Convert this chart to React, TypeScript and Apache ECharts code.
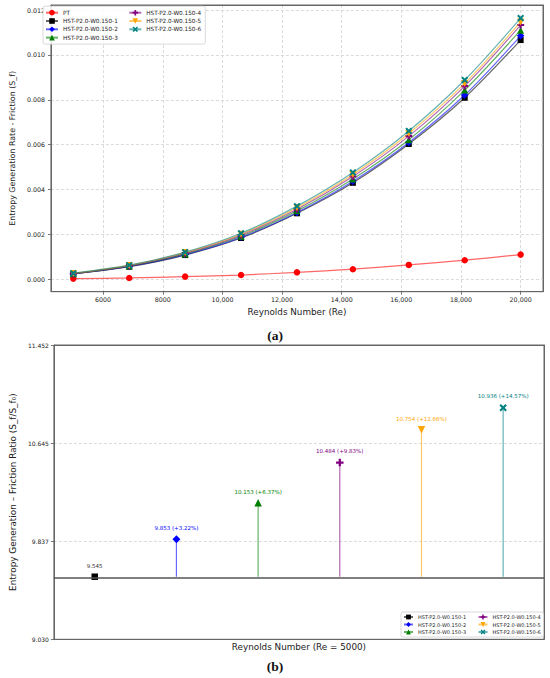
import React, { useEffect, useRef } from "react";
import * as echarts from "echarts";

// ---------- data ----------
const reynolds = [5000, 6875, 8750, 10625, 12500, 14375, 16250, 18125, 20000];
const topNames = [
  "PT",
  "HST-P2.0-W0.150-1",
  "HST-P2.0-W0.150-2",
  "HST-P2.0-W0.150-3",
  "HST-P2.0-W0.150-4",
  "HST-P2.0-W0.150-5",
  "HST-P2.0-W0.150-6",
];
const ptValues = [0.00003, 0.00006, 0.00012, 0.00019, 0.00031, 0.00045, 0.00064, 0.00085, 0.0011];
const hst1Values = [0.00024, 0.00056, 0.00108, 0.00184, 0.00294, 0.0043, 0.00603, 0.00809, 0.01066];
const hst2Values = [0.00024, 0.00057, 0.0011, 0.00187, 0.00298, 0.00437, 0.0061, 0.00821, 0.01085];
const hst3Values = [0.00025, 0.00059, 0.00113, 0.00192, 0.00305, 0.00447, 0.00622, 0.00843, 0.0111];
const hst4Values = [0.00025, 0.0006, 0.00116, 0.00197, 0.00312, 0.00458, 0.00638, 0.00861, 0.01133];
const hst5Values = [0.00026, 0.00062, 0.00119, 0.00201, 0.00319, 0.00467, 0.0065, 0.00873, 0.01147];
const hst6Values = [0.00027, 0.00063, 0.00121, 0.00205, 0.00326, 0.00476, 0.00661, 0.00888, 0.01164];
const topValues = [ptValues, hst1Values, hst2Values, hst3Values, hst4Values, hst5Values, hst6Values];
const reTicks = [6000, 8000, 10000, 12000, 14000, 16000, 18000, 20000];
const sfTicks = [0, 0.002, 0.004, 0.006, 0.008, 0.01, 0.012];

const ratioNames = topNames.slice(1);
const ratioValues = [9.545, 9.853, 10.153, 10.484, 10.754, 10.936];
const ratioPct = [null, 3.22, 6.37, 9.83, 12.66, 14.57];
const ratioBase = 9.545;
const ratioTicks = [9.03, 9.837, 10.645, 11.452];

// ---------- styles ----------
const FONT = "DejaVu Sans";
const colors = ["#ff0000", "#000000", "#0000ff", "#008000", "#800080", "#ffa500", "#008080"];
const PLUS = "path://M3.5,0H6.5V3.5H10V6.5H6.5V10H3.5V6.5H0V3.5H3.5Z";
const TRI_DOWN = "path://M0,0L10,0L5,8.66Z";
const XMARK = "path://M0,2L2,0L5,3L8,0L10,2L7,5L10,8L8,10L5,7L2,10L0,8L3,5Z";
const symbols = ["circle", "rect", "diamond", "triangle", PLUS, TRI_DOWN, XMARK];
const symbolSizes = [6.5, 6, 7.5, 7, 7, 7, 7];
const FRAME = "#666";

const fmtRe = (v: number) => {
  const s = String(Math.round(v));
  return v >= 10000 ? s.slice(0, s.length - 3) + "," + s.slice(-3) : s;
};

export default function App() {
  const ref = useRef<HTMLDivElement>(null);
  useEffect(() => {
    if (!ref.current) return;
    const chart = echarts.init(ref.current, undefined, { renderer: "svg" });

    const topSeries = topNames.map((name, i) => ({
      type: "line",
      name,
      xAxisIndex: 0,
      yAxisIndex: 0,
      data: reynolds.map((r, k) => [r, topValues[i][k]]),
      smooth: 0.3,
      symbol: symbols[i],
      symbolSize: symbolSizes[i],
      itemStyle: { color: colors[i] },
      lineStyle: { color: colors[i], width: 1.2, opacity: 0.6 },
      z: 3 + i,
    }));

    const stemSeries = ratioNames.map((n, i) => ({
      type: "line",
      name: "stem-" + i,
      xAxisIndex: 1,
      yAxisIndex: 1,
      data: [
        [i, ratioBase],
        [i, ratioValues[i]],
      ],
      symbol: "none",
      silent: true,
      lineStyle: { color: colors[i + 1], width: 1.2, opacity: 0.6 },
      z: 2,
    }));

    const markerSeries = ratioNames.map((name, i) => ({
      type: "line",
      name,
      xAxisIndex: 1,
      yAxisIndex: 1,
      data: [[i, ratioValues[i]]],
      symbol: symbols[i + 1],
      symbolSize: symbolSizes[i + 1] + 0.5,
      itemStyle: { color: colors[i + 1] },
      lineStyle: { color: colors[i + 1], width: 1.2, opacity: 0.6 },
      label: {
        show: true,
        position: "top",
        distance: 4.5,
        fontSize: 5.5,
        fontFamily: FONT,
        color: i === 0 ? "#333" : colors[i + 1],
        formatter: () =>
          ratioPct[i] == null
            ? ratioValues[i].toFixed(3)
            : `${ratioValues[i].toFixed(3)} (+${(ratioPct[i] as number).toFixed(2)}%)`,
      },
      z: 4,
      markLine:
        i === 0
          ? {
              silent: true,
              symbol: ["none", "none"],
              label: { show: false },
              lineStyle: { color: "#555", width: 1.5, type: "solid" },
              data: [{ yAxis: ratioBase }],
            }
          : undefined,
    }));

    const tickStyle = { show: true, length: 3, lineStyle: { color: "#555", width: 0.8 } };
    const gridLine = () => ({ show: true, lineStyle: { color: "#d2d2d2", width: 0.8, type: [3, 2] } });
    const frameLine = () => ({ show: true, onZero: false, lineStyle: { color: FRAME, width: 1 } });
    const frameAxis = (gridIndex: number, min: number, max: number, position: string) => ({
      type: "value",
      gridIndex,
      min,
      max,
      position,
      axisLine: frameLine(),
      axisTick: { show: false },
      axisLabel: { show: false },
      splitLine: { show: false },
    });

    chart.setOption({
      animation: false,
      textStyle: { fontFamily: FONT },
      grid: [
        { left: 41, top: 5, width: 502, height: 286.7, show: true, borderColor: FRAME, borderWidth: 1, backgroundColor: "transparent" },
        { left: 45, top: 345, width: 499, height: 294.3, show: true, borderColor: FRAME, borderWidth: 1, backgroundColor: "transparent" },
      ],
      xAxis: [
        {
          type: "value",
          gridIndex: 0,
          min: 4250,
          max: 20750,
          position: "bottom",
          axisLine: frameLine(),
          axisTick: { ...tickStyle, customValues: reTicks },
          axisLabel: { customValues: reTicks, formatter: fmtRe, fontSize: 6.3, color: "#222", margin: 5, fontFamily: FONT },
          splitLine: gridLine(),
          name: "Reynolds Number (Re)",
          nameLocation: "middle",
          nameGap: 16,
          nameTextStyle: { fontSize: 8.8, color: "#222", fontFamily: FONT },
        },
        {
          type: "category",
          gridIndex: 1,
          data: ratioNames,
          boundaryGap: true,
          position: "bottom",
          axisLine: frameLine(),
          axisTick: { show: false },
          axisLabel: { show: false },
          splitLine: { show: false },
          name: "Reynolds Number (Re = 5000)",
          nameLocation: "middle",
          nameGap: 3,
          nameTextStyle: { fontSize: 8.8, color: "#222", fontFamily: FONT },
        },
        frameAxis(0, 4250, 20750, "top"),
        frameAxis(1, 0, 1, "top"),
      ],
      yAxis: [
        {
          type: "value",
          gridIndex: 0,
          min: -0.000553,
          max: 0.012223,
          position: "left",
          axisLine: frameLine(),
          axisTick: { ...tickStyle, customValues: sfTicks },
          axisLabel: { customValues: sfTicks, formatter: (v: number) => v.toFixed(3), fontSize: 6.3, color: "#222", margin: 6, fontFamily: FONT },
          splitLine: gridLine(),
          name: "Entropy Generation Rate - Friction (S_f)",
          nameLocation: "middle",
          nameRotate: 90,
          nameGap: 26,
          nameTextStyle: { fontSize: 7.9, color: "#222", fontFamily: FONT },
        },
        {
          type: "value",
          gridIndex: 1,
          min: ratioTicks[0],
          max: ratioTicks[ratioTicks.length - 1],
          position: "left",
          axisLine: frameLine(),
          axisTick: { ...tickStyle, customValues: ratioTicks },
          axisLabel: { customValues: ratioTicks, formatter: (v: number) => v.toFixed(3), fontSize: 6, color: "#222", margin: 5, fontFamily: FONT },
          splitLine: gridLine(),
          name: "Entropy Generation – Friction Ratio (S_f/S_f₀)",
          nameLocation: "middle",
          nameRotate: 90,
          nameGap: 30,
          nameTextStyle: { fontSize: 8.9, color: "#222", fontFamily: FONT },
        },
        frameAxis(0, -0.000553, 0.012223, "right"),
        frameAxis(1, ratioTicks[0], ratioTicks[ratioTicks.length - 1], "right"),
      ],
      legend: [
        {
          orient: "vertical",
          left: 43,
          top: 6.2,
          height: 39,
          padding: [3, 3, 3, 2],
          itemWidth: 12,
          itemHeight: 7,
          itemGap: 1.3,
          backgroundColor: "rgba(255,255,255,0.85)",
          borderColor: "#cfcfcf",
          borderWidth: 0.8,
          borderRadius: 2,
          textStyle: { fontSize: 5.7, lineHeight: 7, color: "#222", fontFamily: FONT, width: 64 },
          data: topNames.map((n, i) => (i < 4 ? { name: n } : { name: n, textStyle: { width: 56 } })),
        },
        {
          orient: "vertical",
          left: 401,
          top: 612,
          height: 26,
          padding: [2, 2, 2, 2],
          itemWidth: 9,
          itemHeight: 6,
          itemGap: 1.5,
          backgroundColor: "rgba(255,255,255,0.85)",
          borderColor: "#cfcfcf",
          borderWidth: 0.8,
          borderRadius: 2,
          textStyle: { fontSize: 5, lineHeight: 6, color: "#222", fontFamily: FONT, width: 58 },
          data: ratioNames.map((n, i) => (i < 3 ? { name: n } : { name: n, textStyle: { width: 49 } })),
        },
      ],
      graphic: [
        {
          type: "text",
          left: "center",
          top: 328,
          style: { text: "(a)", fontSize: 13.5, fontWeight: "bold", fontFamily: "Liberation Serif", fill: "#111" },
        },
        {
          type: "text",
          left: "center",
          top: 659,
          style: { text: "(b)", fontSize: 13.5, fontWeight: "bold", fontFamily: "Liberation Serif", fill: "#111" },
        },
      ],
      series: [...topSeries, ...stemSeries, ...markerSeries],
    });

    return () => chart.dispose();
  }, []);

  return (
    <div
      ref={ref}
      style={{ position: "absolute", left: 0, top: 0, width: 550, height: 678, background: "#fff" }}
    />
  );
}
